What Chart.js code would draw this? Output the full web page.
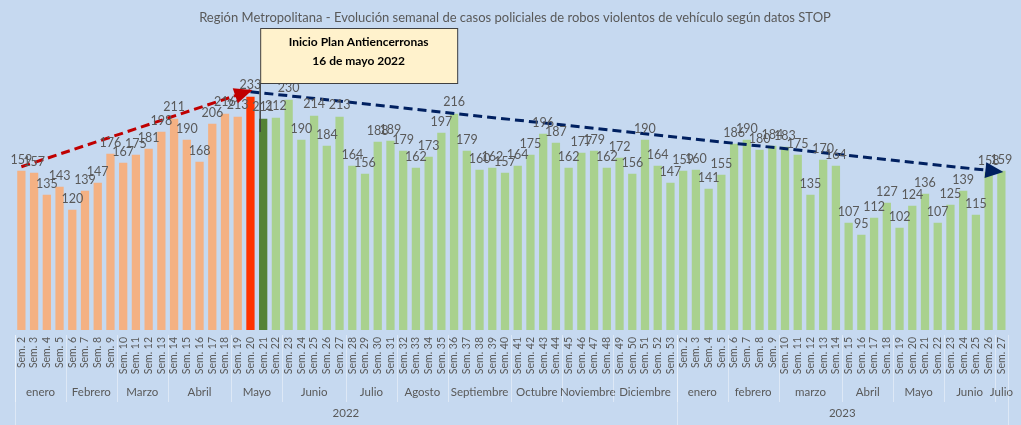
<html>
<head>
<meta charset="utf-8">
<script src="https://cdn.jsdelivr.net/npm/chart.js"></script>
<style>
  html, body { margin: 0; padding: 0; background: #c6d9f0; }
  #wrap { position: relative; width: 1021px; height: 425px; }
</style>
</head>
<body>
<div id="wrap"><canvas id="myChart"></canvas></div>

<script>
// semanas 2022 (Sem. 2 - Sem. 53) y 2023 (Sem. 2 - Sem. 27)
const weeks2022 = []
for (let w = 2; w <= 53; w++) weeks2022.push("Sem. " + w)
const weeks2023 = []
for (let w = 2; w <= 27; w++) weeks2023.push("Sem. " + w)
const labels = weeks2022.concat(weeks2023)

const casos2022 = [159,157,135,143,120,139,147,176,167,175,181,198,211,190,168,206,216,213,233,
                   211,212,230,190,214,184,213,164,156,188,189,179,162,173,197,216,179,160,162,
                   157,164,175,196,187,162,177,179,162,172,156,190,164,147]
const casos2023 = [159,160,141,155,186,190,180,184,183,175,135,170,164,107,95,112,127,102,124,
                   136,107,125,139,115,158,159]
const casos = casos2022.concat(casos2023)

// meses y cantidad de semanas en cada uno
const meses = ["enero","Febrero","Marzo","Abril","Mayo","Junio","Julio","Agosto","Septiembre",
               "Octubre","Noviembre","Diciembre",
               "enero","febrero","marzo","Abril","Mayo","Junio","Julio"]
const semanasPorMes = [4,4,4,5,4,5,4,4,5,4,4,5, 4,4,5,4,4,4,1]
const anios = ["2022","2023"]
const semanasPorAnio = [52,26]

// tendencias (inicio y fin)
const tendAntes = { desde: 0, hasta: 18, v1: 163, v2: 239 }
const tendDespues = { desde: 18, hasta: 77, v1: 238, v2: 158 }

const inicioPlan = 19  // Sem. 21 de 2022
const notaPlan = ["Inicio Plan Antiencerronas", "16 de mayo 2022"]

function lineaTendencia(t) {
  const arr = labels.map(() => null)
  arr[t.desde] = t.v1
  arr[t.hasta] = t.v2
  return arr
}

function colorBarra(i) {
  if (i < 18) return "#f4b183"
  if (i == 18) return "#ff3300"
  if (i == 19) return "#548235"
  return "#a9d18e"
}

const gris = "#595959"

const fondo = {
  id: "fondo",
  beforeDraw(chart) {
    const ctx = chart.ctx
    ctx.save()
    ctx.fillStyle = "#c6d9f0"
    ctx.fillRect(0, 0, chart.width, chart.height)
    ctx.restore()
  }
}

const etiquetas = {
  id: "etiquetas",
  afterDatasetsDraw(chart) {
    const ctx = chart.ctx
    const meta = chart.getDatasetMeta(0)
    ctx.save()
    ctx.font = "12.5px Lato"
    ctx.fillStyle = gris
    ctx.textAlign = "center"
    ctx.textBaseline = "bottom"
    meta.data.forEach((bar, i) => {
      ctx.fillText(casos[i], bar.x, bar.y - 5)
    })
    ctx.restore()
  }
}

function flecha(ctx, p0, p1, color) {
  const ang = Math.atan2(p1.y - p0.y, p1.x - p0.x)
  const L = 16, W = 8
  ctx.save()
  ctx.fillStyle = color
  ctx.translate(p1.x, p1.y)
  ctx.rotate(ang)
  ctx.beginPath()
  ctx.moveTo(2, 0)
  ctx.lineTo(-L, -W)
  ctx.lineTo(-L, W)
  ctx.closePath()
  ctx.fill()
  ctx.restore()
}

const flechas = {
  id: "flechas",
  afterDatasetsDraw(chart) {
    const ctx = chart.ctx
    const a = chart.getDatasetMeta(1).data
    flecha(ctx, a[tendAntes.desde], a[tendAntes.hasta], "#c00000")
    const b = chart.getDatasetMeta(2).data
    flecha(ctx, b[tendDespues.desde], b[tendDespues.hasta], "#002060")
  }
}

const nota = {
  id: "nota",
  afterDraw(chart) {
    const ctx = chart.ctx
    const x = chart.scales.x.getPixelForValue(inicioPlan) - 3
    const y = 28, w = 197, h = 55
    ctx.save()
    ctx.strokeStyle = "#404040"
    ctx.lineWidth = 1.5
    ctx.beginPath()
    ctx.moveTo(x, y + h)
    ctx.lineTo(x, 132)
    ctx.stroke()
    ctx.fillStyle = "#fff2cc"
    ctx.fillRect(x, y, w, h)
    ctx.lineWidth = 1
    ctx.strokeRect(x + 0.5, y + 0.5, w, h)
    ctx.fillStyle = "#000"
    ctx.font = "bold 12px Lato"
    ctx.textAlign = "center"
    ctx.textBaseline = "middle"
    ctx.fillText(notaPlan[0], x + w / 2, y + 14)
    ctx.fillText(notaPlan[1], x + w / 2, y + 33)
    ctx.restore()
  }
}

const grupos = {
  id: "grupos",
  afterDraw(chart) {
    const ctx = chart.ctx
    const sx = chart.scales.x
    const paso = sx.getPixelForValue(1) - sx.getPixelForValue(0)
    const borde = i => sx.getPixelForValue(i) - paso / 2
    const top = chart.chartArea.bottom + 5
    ctx.save()
    ctx.strokeStyle = "rgba(255,255,255,0.4)"
    ctx.lineWidth = 1
    ctx.fillStyle = gris
    ctx.textAlign = "center"
    ctx.textBaseline = "middle"
    ctx.font = "11.5px Lato"
    let i = 0
    meses.forEach((m, k) => {
      const x0 = borde(i), x1 = borde(i + semanasPorMes[k])
      ctx.beginPath()
      ctx.moveTo(Math.round(x0) + 0.5, top)
      ctx.lineTo(Math.round(x0) + 0.5, 402)
      ctx.stroke()
      ctx.fillText(m, (x0 + x1) / 2, 392)
      i += semanasPorMes[k]
    })
    i = 0
    anios.forEach((a, k) => {
      const x0 = borde(i), x1 = borde(i + semanasPorAnio[k])
      ctx.beginPath()
      ctx.moveTo(Math.round(x0) + 0.5, top)
      ctx.lineTo(Math.round(x0) + 0.5, 425)
      ctx.stroke()
      ctx.fillText(a, (x0 + x1) / 2, 413)
      i += semanasPorAnio[k]
    })
    const xf = borde(labels.length)
    ctx.beginPath()
    ctx.moveTo(Math.round(xf) + 0.5, top)
    ctx.lineTo(Math.round(xf) + 0.5, 425)
    ctx.stroke()
    ctx.restore()
  }
}

const config = {
  data: {
    labels: labels,
    datasets: [
      {
        type: "bar",
        data: casos,
        backgroundColor: labels.map((l, i) => colorBarra(i)),
        barPercentage: 0.65,
        categoryPercentage: 1,
        order: 2
      },
      {
        type: "line",
        data: lineaTendencia(tendAntes),
        borderColor: "#c00000",
        borderWidth: 3,
        borderDash: [9, 5],
        pointRadius: 0,
        spanGaps: true,
        order: 1
      },
      {
        type: "line",
        data: lineaTendencia(tendDespues),
        borderColor: "#002060",
        borderWidth: 3,
        borderDash: [9, 5],
        pointRadius: 0,
        spanGaps: true,
        order: 1
      }
    ]
  },
  options: {
    responsive: false,
    animation: false,
    layout: { padding: { left: 15, right: 6, top: 0, bottom: 0 } },
    plugins: {
      legend: { display: false },
      tooltip: { enabled: false },
      title: {
        display: true,
        text: "Región Metropolitana - Evolución semanal de casos policiales de robos violentos de vehículo según datos STOP",
        color: gris,
        font: { family: "Lato", size: 13, weight: "normal" },
        padding: { top: 10, bottom: 4 }
      }
    },
    scales: {
      x: {
        grid: { display: false, drawTicks: false },
        border: { display: false },
        ticks: {
          autoSkip: false,
          maxRotation: 90,
          minRotation: 90,
          color: gris,
          padding: 7,
          font: { family: "Lato", size: 10.5 }
        },
        afterFit: s => { s.height = 95 }
      },
      y: {
        display: false,
        min: 0,
        max: 300
      }
    }
  },
  plugins: [fondo, etiquetas, flechas, nota, grupos]
}

const canvas = document.getElementById("myChart")
canvas.width = 1021
canvas.height = 425
new Chart(canvas, config)
</script>
</body>
</html>
